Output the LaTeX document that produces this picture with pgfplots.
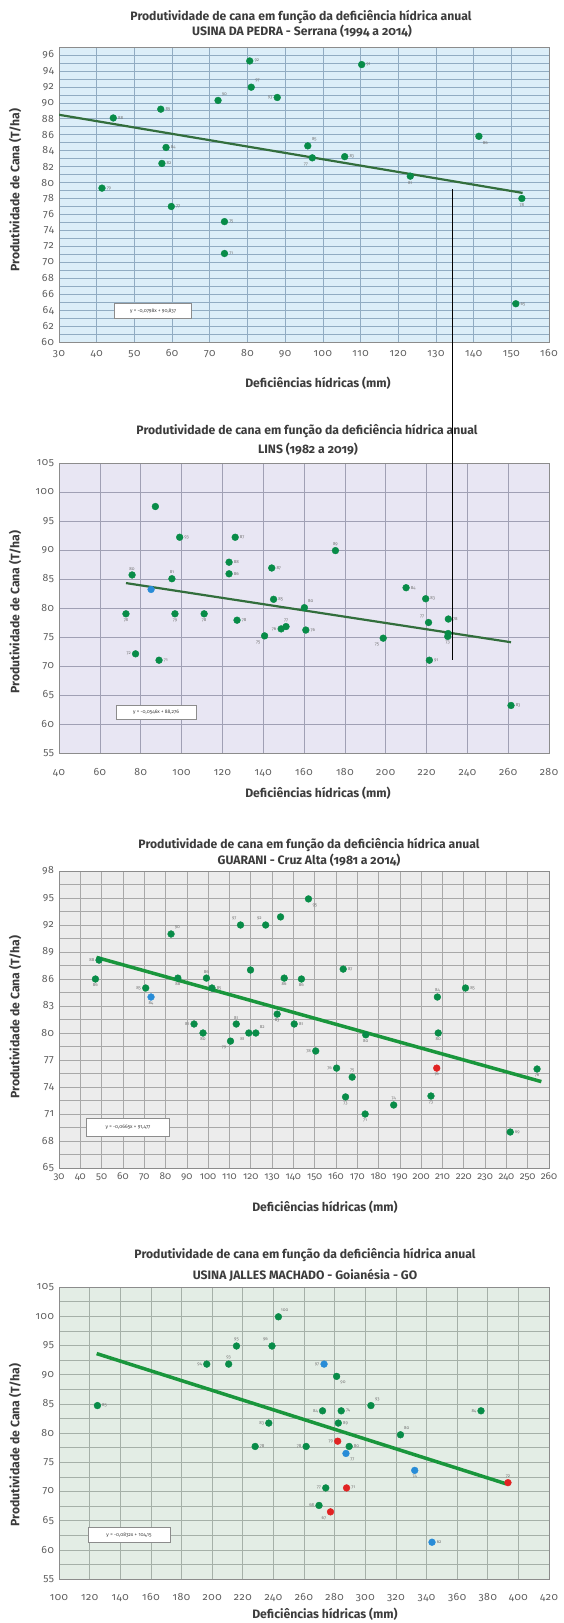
\documentclass[border=0pt]{standalone}
\usepackage{fontspec}
\setmainfont{Fira Sans}[Numbers=OldStyle]
\newfontfamily\tickfont{Fira Sans}[Numbers=OldStyle, LetterSpace=5]
\usepackage{pgfplots}
\pgfplotsset{compat=1.18}

\definecolor{ptgreen}{RGB}{8,140,72}
\definecolor{ptblue}{RGB}{40,140,215}
\definecolor{ptred}{RGB}{225,35,35}
\definecolor{trendA}{RGB}{50,110,60}
\definecolor{trendB}{RGB}{25,150,60}
\definecolor{bgA}{RGB}{220,238,248}
\definecolor{gridA}{RGB}{145,172,194}
\definecolor{bgB}{RGB}{232,230,243}
\definecolor{gridB}{RGB}{160,160,180}
\definecolor{bgC}{RGB}{236,236,236}
\definecolor{gridC}{RGB}{168,168,168}
\definecolor{bgD}{RGB}{227,237,229}
\definecolor{gridD}{RGB}{165,176,168}
\definecolor{txt}{RGB}{60,60,60}
\definecolor{ticktxt}{RGB}{95,95,95}

\pgfplotsset{
  base/.style={scale only axis, anchor=south west, width=490pt,
    axis line style={draw=black!45},
    tick style={draw=none},
    ticklabel style={font=\tickfont\fontsize{10.5}{11}\selectfont, text=ticktxt},
    /pgf/number format/assume math mode=true,
    yticklabel style={xshift=-1.5pt},
    xmajorgrids, ymajorgrids,
  },
  pts/.style={only marks, mark=*, mark size=3.4pt,
    color=#1, mark options={draw=#1, fill=#1},
    nodes near coords, point meta=explicit symbolic,
    visualization depends on={value \thisrow{anc}\as\myanchor},
    every node near coord/.append style={anchor=\myanchor,
      font=\fontsize{4.5}{5}\selectfont, text=black!55, inner sep=4.6pt}},
}

\newcommand{\ttl}[1]{\fontsize{12.2}{13}\selectfont\bfseries #1}

\begin{document}
\begin{tikzpicture}
\useasboundingbox (0,0) rectangle (563pt,-1623pt);

% ---------- Panel 1 ----------
\begin{axis}[base, at={(59pt,-342pt)}, height=295pt,
  xmin=30, xmax=160, ymin=60, ymax=97,
  xtick={30,40,...,160},
  xticklabel style={anchor=base, yshift=-14pt},
  ytick={60,62,...,96}, minor ytick={61,63,...,97}, yminorgrids,
  axis background/.style={fill=bgA},
  major grid style={draw=gridA, line width=0.6pt},
  minor grid style={draw=gridA, line width=0.6pt}]
\addplot[trendA, line width=2.2pt] coordinates {(30,88.5) (153,78.7)};
\addplot[pts=ptgreen] table[x=x, y=y, meta=lab] {
x y lab anc
80.6 95.25 92 180
110.3 94.8 91 180
81.0 91.96 97 225
87.9 90.67 93 0
72.2 90.3 90 225
57.0 89.2 89 180
44.4 88.1 88 180
141.4 85.8 86 135
96.0 84.6 85 225
58.4 84.4 84 180
97.2 83.1 77 45
105.8 83.25 83 180
57.3 82.4 82 180
123.2 80.8 81 90
41.4 79.3 79 180
152.8 78.0 78 90
59.8 77.0 77 180
73.9 75.1 75 180
73.9 71.1 71 180
151.2 64.8 65 180
};
\end{axis}

% ---------- Panel 2 ----------
\begin{axis}[base, at={(59pt,-753pt)}, height=290pt,
  xmin=40, xmax=280, ymin=55, ymax=105,
  xtick={40,60,...,280}, ytick={55,60,...,105},
  xticklabel style={anchor=base, yshift=-22pt},
  axis background/.style={fill=bgB},
  major grid style={draw=gridB, line width=0.6pt}]
\addplot[trendA, line width=2.2pt] coordinates {(72.8,84.3) (261.4,74.1)};
\addplot[pts=ptgreen] table[x=x, y=y, meta=lab] {
x y lab anc
87.2 97.5 {} 180
99.1 92.2 93 180
126.3 92.2 87 180
175.4 89.9 89 270
123.3 87.9 88 180
123.3 85.9 86 180
144.2 86.9 87 180
75.8 85.7 80 270
95.3 85.05 81 270
210.0 83.5 84 180
219.6 81.6 83 180
145.1 81.5 85 180
160.2 80.06 80 225
72.8 79.0 78 90
96.8 79.0 79 90
111.1 79.0 78 90
127.2 77.9 78 180
221.0 77.5 77 315
230.7 78.1 78 180
151.2 76.8 77 270
148.8 76.4 76 0
160.9 76.2 76 180
140.7 75.2 75 45
198.8 74.8 75 45
230.4 75.1 73 90
230.6 75.6 {} 180
77.5 72.1 72 0
89.0 71.0 71 180
221.4 71.0 91 180
261.4 63.2 83 180
};
\addplot[pts=ptblue] table[x=x, y=y, meta=lab] {
x y lab anc
85.1 83.2 {} 180
};
\end{axis}

% ---------- Panel 3 ----------
\begin{axis}[base, at={(59pt,-1168pt)}, height=297pt,
  xmin=30, xmax=260, ymin=65, ymax=98,
  xtick={30,40,...,260},
  xticklabel style={anchor=base, yshift=-11pt,
    font=\fontsize{10}{11}\selectfont},
  ytick={65,68,...,98}, minor ytick={66.5,69.5,...,96.5}, yminorgrids,
  axis background/.style={fill=bgC},
  major grid style={draw=gridC, line width=0.6pt},
  minor grid style={draw=gridC, line width=0.6pt}]
\addplot[trendB, line width=3.5pt] coordinates {(47.6,88.4) (256.4,74.6)};
\addplot[pts=ptgreen] table[x=x, y=y, meta=lab] {
x y lab anc
147.1 94.9 95 135
134.0 92.9 {} 180
115.2 92.0 97 315
127.0 92.0 92 315
82.6 91.0 90 225
48.8 88.1 88 0
47.1 86.0 86 90
119.9 87.0 {} 180
163.4 87.1 87 180
85.8 86.1 88 90
99.2 86.1 86 270
101.8 85.0 85 180
135.7 86.1 86 90
143.8 86.0 86 90
70.7 85.0 85 0
207.6 84.0 84 270
220.8 85.0 85 180
132.4 82.1 83 90
93.4 81.0 81 0
113.2 81.0 81 270
140.4 81.0 81 180
97.6 80.0 80 90
119.1 80.0 81 45
122.4 80.0 82 225
174.0 79.8 80 90
208.0 80.0 80 90
110.5 79.1 79 45
150.5 78.0 78 0
160.3 76.1 76 0
167.6 75.1 75 270
254.4 76.0 76 90
164.5 72.9 73 90
187.1 72.0 74 270
204.6 73.0 73 90
173.7 71.0 71 90
241.8 69.0 69 180
};
\addplot[pts=ptblue] table[x=x, y=y, meta=lab] {
x y lab anc
73.2 84.0 84 90
};
\addplot[pts=ptred] table[x=x, y=y, meta=lab] {
x y lab anc
207.3 76.1 76 90
};
\end{axis}

% ---------- Panel 4 ----------
\begin{axis}[base, at={(59pt,-1579pt)}, height=292pt,
  xmin=100, xmax=420, ymin=55, ymax=105,
  xtick={100,120,...,420}, ytick={55,60,...,105},
  minor ytick={57.5,62.5,...,102.5}, yminorgrids,
  xticklabel style={anchor=base, yshift=-21pt},
  axis background/.style={fill=bgD},
  major grid style={draw=gridD, line width=0.6pt},
  minor grid style={draw=gridD, line width=0.6pt}]
\addplot[trendB, line width=3.5pt] coordinates {(124.6,93.6) (392,71.3)};
\addplot[pts=ptgreen] table[x=x, y=y, meta=lab] {
x y lab anc
243.3 99.9 100 225
215.9 94.9 95 270
239.1 94.9 96 315
196.5 91.8 94 0
210.8 91.8 93 270
281.3 89.7 90 135
125.1 84.7 85 180
303.7 84.7 93 225
272.1 83.8 84 0
284.3 83.8 74 180
375.6 83.8 84 0
237.0 81.7 83 0
282.4 81.7 89 180
323.0 79.7 80 225
228.1 77.7 78 180
261.4 77.7 78 0
289.5 77.7 80 180
274.2 70.6 77 0
269.8 67.6 68 0
};
\addplot[pts=ptblue] table[x=x, y=y, meta=lab] {
x y lab anc
273.1 91.8 97 0
287.4 76.5 77 135
332.3 73.6 74 90
343.6 61.3 62 180
};
\addplot[pts=ptred] table[x=x, y=y, meta=lab] {
x y lab anc
282.0 78.6 79 0
393.2 71.5 72 270
287.8 70.6 71 180
277.3 66.5 67 45
};
\end{axis}

% ---------- texts ----------
\begin{scope}[every node/.style={text=txt}]
\node at (301pt,-17pt) {\ttl{Produtividade de cana em função da deficiência hídrica anual}};
\node at (302pt,-31pt) {\ttl{USINA DA PEDRA - Serrana (1994 a 2014)}};
\node at (318pt,-383pt) {\ttl{Deficiências hídricas (mm)}};
\node[rotate=90] at (15pt,-190pt) {\ttl{Produtividade de Cana (T/ha)}};
\node[draw=black!45, fill=white, inner sep=2pt, minimum width=77pt, minimum height=15pt, font=\fontsize{5}{6}\selectfont] at (153pt,-311pt) {y = -0,0798x + 90,837};

\node at (307pt,-431pt) {\ttl{Produtividade de cana em função da deficiência hídrica anual}};
\node at (308pt,-449pt) {\ttl{LINS (1982 a 2019)}};
\node at (318pt,-793pt) {\ttl{Deficiências hídricas (mm)}};
\node[rotate=90] at (15pt,-612pt) {\ttl{Produtividade de Cana (T/ha)}};
\node[draw=black!45, fill=white, inner sep=2pt, minimum width=80pt, minimum height=14pt, font=\fontsize{5}{6}\selectfont] at (156pt,-712pt) {y = -0,0546x + 88,276};

\node at (309pt,-845pt) {\ttl{Produtividade de cana em função da deficiência hídrica anual}};
\node at (309pt,-860pt) {\ttl{GUARANI - Cruz Alta (1981 a 2014)}};
\node at (325pt,-1207pt) {\ttl{Deficiências hídricas (mm)}};
\node[rotate=90] at (15pt,-1017pt) {\ttl{Produtividade de Cana (T/ha)}};
\node[draw=black!45, fill=white, inner sep=2pt, minimum width=83pt, minimum height=18pt, font=\fontsize{5}{6}\selectfont] at (128pt,-1127pt) {y = -0,0665x + 91,477};

\node at (305pt,-1255pt) {\ttl{Produtividade de cana em função da deficiência hídrica anual}};
\node at (305pt,-1275pt) {\ttl{USINA JALLES MACHADO - Goianésia - GO}};
\node at (325pt,-1614pt) {\ttl{Deficiências hídricas (mm)}};
\node[rotate=90] at (15pt,-1445pt) {\ttl{Produtividade de Cana (T/ha)}};
\node[draw=black!45, fill=white, inner sep=2pt, minimum width=82pt, minimum height=15pt, font=\fontsize{5}{6}\selectfont] at (129pt,-1535pt) {y = -0,0832x + 104,15};
\end{scope}

\draw[black, line width=0.9pt] (452pt,-189pt) -- (452pt,-660pt);
\end{tikzpicture}
\end{document}
